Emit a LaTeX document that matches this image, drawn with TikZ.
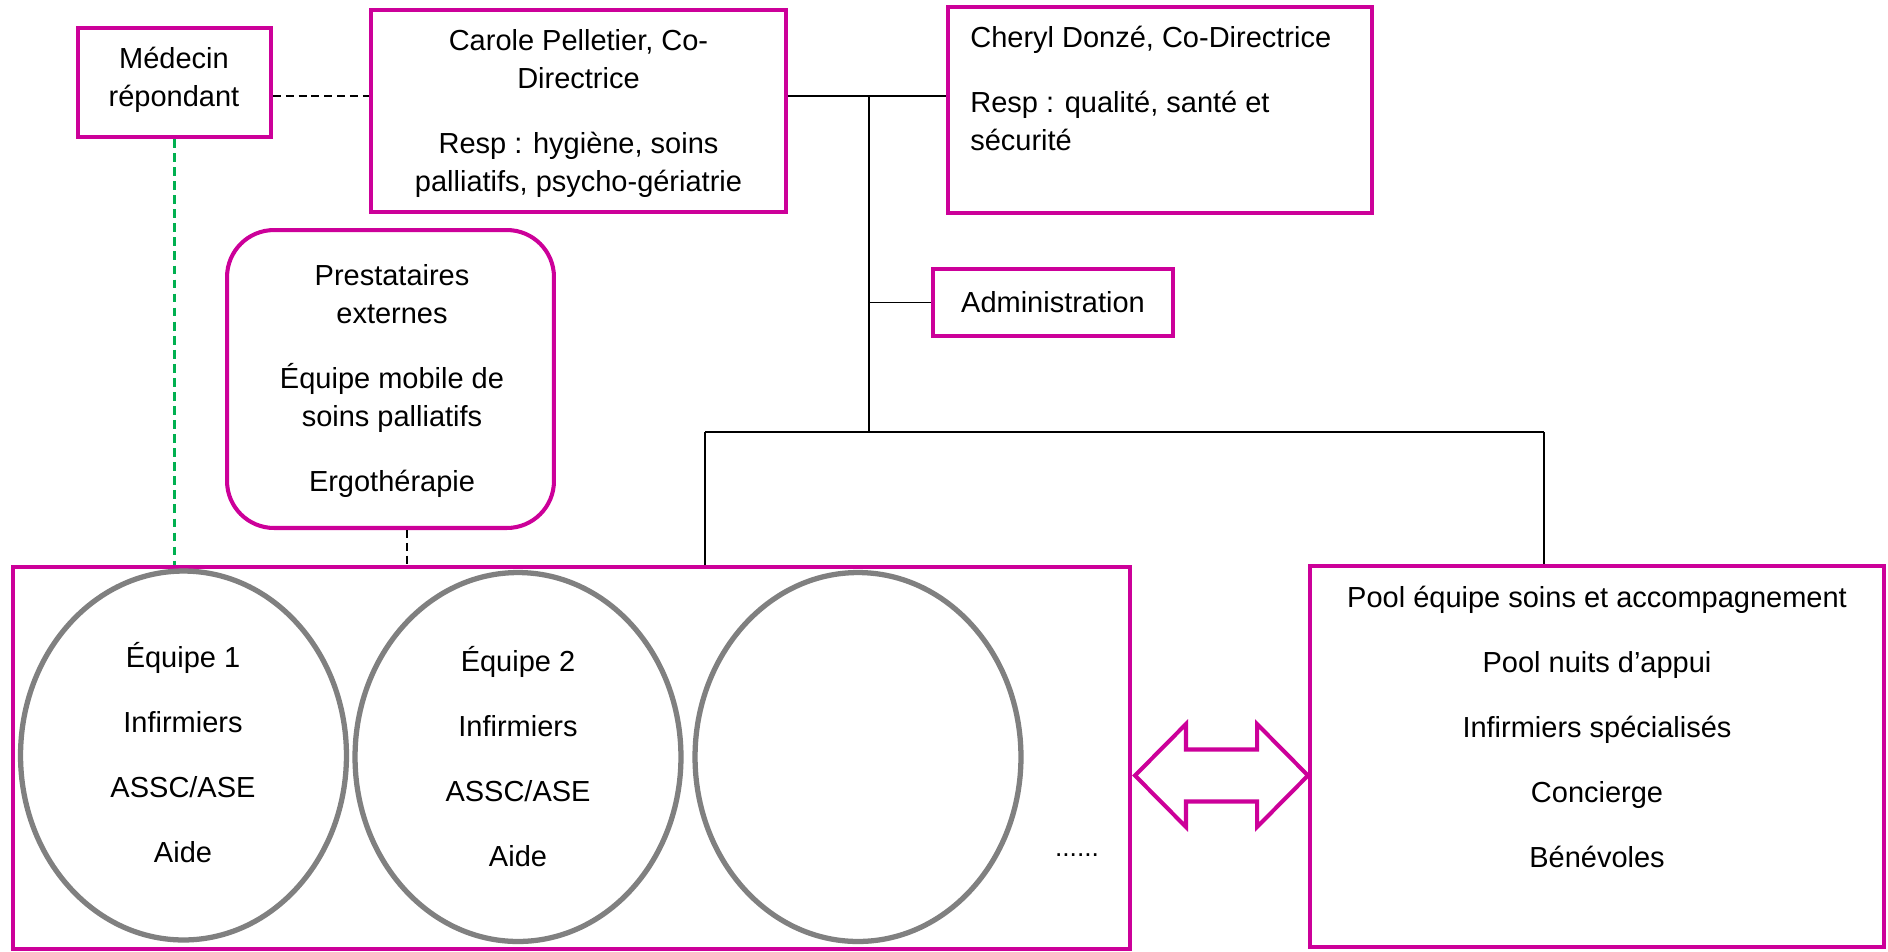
\documentclass[tikz,border=0pt]{standalone}
\usepackage{fontspec}
\setmainfont{Liberation Sans}
\usetikzlibrary{shapes.geometric}
\definecolor{orgmag}{RGB}{204,0,153}
\definecolor{orggray}{RGB}{128,128,128}
\definecolor{orggreen}{RGB}{0,176,80}
\begin{document}
\begin{tikzpicture}[x=0.02cm, y=-0.02cm,
    box/.style={draw=orgmag, line width=2.3pt, inner sep=0pt, font=\fontsize{16.5}{21.6}\selectfont},
    team/.style={ellipse, draw=orggray, line width=3pt, inner sep=0pt, minimum width=6.52cm, minimum height=7.38cm},
    txt/.style={anchor=north, align=center, inner sep=0pt, font=\fontsize{16.5}{21.6}\selectfont},
    wire/.style={line width=1.1pt},
    dashline/.style={line width=1.2pt, dash pattern=on 4.5pt off 2.8pt}]
     \useasboundingbox (0,0) rectangle (1888,951);
     \node[box, minimum width=3.86cm, minimum height=2.18cm] (med) at (174.5,82.5) {};
     \node[box, minimum width=8.30cm, minimum height=4.04cm] (carole) at (578.5,111) {};
     \node[box, minimum width=8.48cm, minimum height=4.12cm] (cheryl) at (1160,110) {};
     \node[box, minimum width=4.80cm, minimum height=1.34cm] (admin) at (1053,302.5) {Administration};
     \node[box, rounded corners=0.94cm, minimum width=6.54cm, minimum height=5.96cm] (presta) at (390.5,379) {};
     \node[box, minimum width=22.34cm, minimum height=7.64cm] (equipes) at (571.5,758) {};
     \node[box, minimum width=11.48cm, minimum height=7.62cm] (pool) at (1597,756.5) {};
     \node[team] (eq1) at (183.5,755.5) {};
     \node[team] (eq2) at (518,757) {};
     \node[team] (eq3) at (858,757) {};
     \node[txt] (medT) at (174,41.3) {\strut Médecin\\répondant};
     \node[txt] (caroleT) at (578.5,24) {\strut Carole Pelletier, Co-\\Directrice\\[15.4pt]Resp : hygiène, soins\\palliatifs, psycho-gériatrie};
     \node[txt, anchor=north west, align=left] (cherylT) at (970,20.3) {\strut Cheryl Donzé, Co-Directrice\\[15.4pt]Resp : qualité, santé et\\sécurité};
     \node[txt] (prestaT) at (392,258.3) {\strut Prestataires\\externes\\[15.4pt]Équipe mobile de\\soins palliatifs\\[15.4pt]Ergothérapie};
     \node[txt] (eq1T) at (183,641) {\strut Équipe 1\\[15.4pt]Infirmiers\\[15.4pt]ASSC/ASE\\[15.4pt]Aide};
     \node[txt] (eq2T) at (518,645) {\strut Équipe 2\\[15.4pt]Infirmiers\\[15.4pt]ASSC/ASE\\[15.4pt]Aide};
     \node[txt] (poolT) at (1597,580.3) {\strut Pool équipe soins et accompagnement\\[15.4pt]Pool nuits d’appui\\[15.4pt]Infirmiers spécialisés\\[15.4pt]Concierge\\[15.4pt]Bénévoles};
     \node[font=\fontsize{15}{18}\selectfont, inner sep=0pt] (more) at (1077,855) {......};
     \coordinate (top) at (869,96);
     \coordinate (fork) at (869,432);
     \coordinate (forkL) at (705,432);
     \coordinate (forkR) at (1544,432);
     \coordinate (prestaDrop) at (407,528);
     \draw[dashline] (med.east |- top) -- (carole.west |- top);
     \draw[wire] (carole.east |- top) -- (cheryl.west |- top);
     \draw[wire] (top) -- (fork);
     \draw[wire] (top |- admin.west) -- (admin.west);
     \draw[wire] (forkL) -- (forkR);
     \draw[wire] (forkL) -- (forkL |- equipes.north);
     \draw[wire] (forkR) -- (forkR |- pool.north);
     \draw[dashline, draw=orggreen, line width=1.6pt, dash pattern=on 5pt off 3pt] (med.south) -- (med.south |- equipes.north);
     \draw[dashline] (presta.south -| prestaDrop) -- (equipes.north -| prestaDrop);
     \draw[draw=orgmag, line width=2.3pt, fill=white] (1135,775.5) -- (1186,724) -- (1186,749.5) -- (1257,749.5) -- (1257,724) -- (1308,775.5) -- (1257,827) -- (1257,801.5) -- (1186,801.5) -- (1186,827) -- cycle;
\end{tikzpicture}
\end{document}
